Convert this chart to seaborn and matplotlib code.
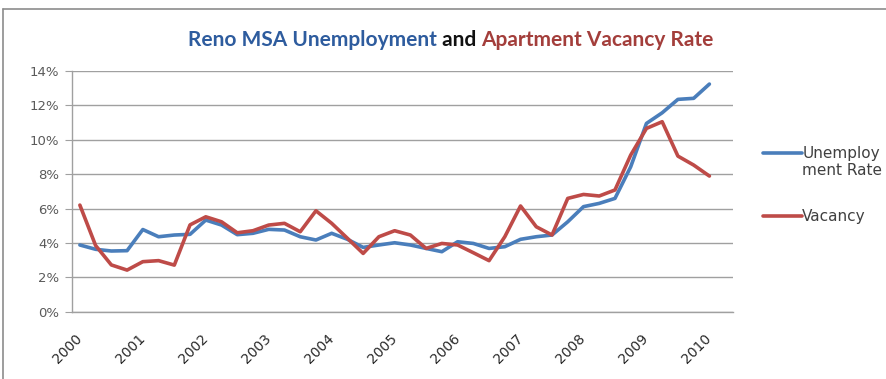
import numpy as np
import pandas as pd
import matplotlib
matplotlib.use("Agg")
import matplotlib.pyplot as plt
import seaborn as sns
from matplotlib.lines import Line2D

# ---- data (quarterly, 2000 Q1 .. 2010 Q1) ----
years = list(range(2000, 2011))
quarters = [f"{y}Q{q}" for y in range(2000, 2011) for q in range(1, 5)][:42]
unemployment = [3.88, 3.63, 3.53, 3.55, 4.78, 4.36, 4.46, 4.50, 5.33, 5.04,
                4.48, 4.56, 4.79, 4.75, 4.36, 4.17, 4.56, 4.21, 3.74, 3.88,
                4.01, 3.88, 3.68, 3.49, 4.07, 3.97, 3.68, 3.78, 4.21, 4.36,
                4.46, 5.23, 6.11, 6.30, 6.59, 8.43, 10.95, 11.57, 12.35, 12.41,
                13.24]
vacancy = [6.20, 3.85, 2.72, 2.42, 2.91, 2.97, 2.71, 5.05, 5.52, 5.23,
           4.59, 4.71, 5.04, 5.14, 4.65, 5.87, 5.14, 4.27, 3.39, 4.36,
           4.71, 4.46, 3.68, 3.97, 3.88, 3.43, 2.97, 4.36, 6.15, 4.94,
           4.46, 6.59, 6.82, 6.73, 7.08, 9.11, 10.66, 11.05, 9.05, 8.53,
           7.89]
series_names = ["Unemploy\nment Rate", "Vacancy"]
yticks = [0, 2, 4, 6, 8, 10, 12, 14]

df = pd.DataFrame({
    "pos": list(range(len(unemployment))) + list(range(len(vacancy))),
    "rate": unemployment + vacancy,
    "series": [series_names[0]] * len(unemployment) + [series_names[1]] * len(vacancy),
})

sns.set_theme(style="white")
plt.rcParams["font.family"] = ["DejaVu Sans"]

fig = plt.figure(figsize=(8.87, 3.79), dpi=100)
ax = fig.add_axes([72 / 887, 1 - 311.7 / 379, (733 - 72) / 887, (311.7 - 71) / 379])

blue = "#4A7EBB"
red = "#BE4B48"
sns.lineplot(data=df, x="pos", y="rate", hue="series", hue_order=series_names,
             palette=[blue, red], linewidth=2.6, ax=ax, legend=True)
for ln in ax.get_lines():
    ln.set_solid_joinstyle("round")
    ln.set_solid_capstyle("round")

ax.set_xlim(-0.5, len(quarters) - 0.5)
ax.set_ylim(0, 14)
ax.set_yticks(yticks)
ax.set_yticklabels([f"{v}%" for v in yticks], fontsize=9.5, color="#5a5a5a")
ax.yaxis.grid(True, color="#a0a0a0", linewidth=1.0)
ax.set_axisbelow(True)

major = [i for i, q in enumerate(quarters) if q.endswith("Q1")]
ax.set_xticks(major)
ax.set_xticklabels([str(y) for y in years], rotation=45, ha="right", va="center",
                   rotation_mode="anchor", fontsize=10, color="#2a2a2a")
ax.set_xticks(np.arange(len(quarters) + 1) - 0.5, minor=True)
ax.tick_params(axis="x", which="major", length=0, pad=18)
ax.tick_params(axis="x", which="minor", length=4, width=0.8, color="#a0a0a0", direction="out")
ax.tick_params(axis="y", length=5, width=0.8, color="#a0a0a0", direction="out", pad=4, left=True)
ax.set_xlabel("")
ax.set_ylabel("")
for s in ["top", "right"]:
    ax.spines[s].set_visible(False)
for s in ["left", "bottom"]:
    ax.spines[s].set_color("#a0a0a0")
    ax.spines[s].set_linewidth(1.0)

leg = ax.legend(loc="upper left", bbox_to_anchor=(755 / 887, 1 - 138 / 379),
                bbox_transform=fig.transFigure, frameon=False, fontsize=11,
                handlelength=2.6, handletextpad=0.0, labelspacing=2.05, borderpad=0)
for t in leg.get_texts():
    t.set_color("#404040")
handles = leg.get_lines()
for h in handles:
    h.set_linewidth(2.6)
# align the first handle with the first text line, as in the spreadsheet legend
handles[0].set_ydata(np.asarray(handles[0].get_ydata()) + 6.5)

# title in three colours
parts = [("Reno MSA Unemployment", "#2E5C9E"), (" and ", "#111111"),
         ("Apartment Vacancy Rate", "#A33E3B")]
fig.canvas.draw()
r = fig.canvas.get_renderer()
texts = []
for s, c in parts:
    t = fig.text(0, 1 - 40 / 379, s, color=c, fontsize=15, fontweight="bold",
                 family=["Lato", "DejaVu Sans"], va="center", ha="left")
    texts.append(t)
widths = [t.get_window_extent(r).width for t in texts]
total = sum(widths)
start = 451 - total / 2
for t, w in zip(texts, widths):
    t.set_x(start / 887)
    start += w

# chart frame
fig.add_artist(Line2D([3 / 887, 3 / 887], [0, 1 - 9 / 379], color="#8c8c8c", linewidth=1.2))
fig.add_artist(Line2D([3 / 887, 1], [1 - 9 / 379, 1 - 9 / 379], color="#8c8c8c", linewidth=1.2))

fig.savefig("out.png", dpi=100)
